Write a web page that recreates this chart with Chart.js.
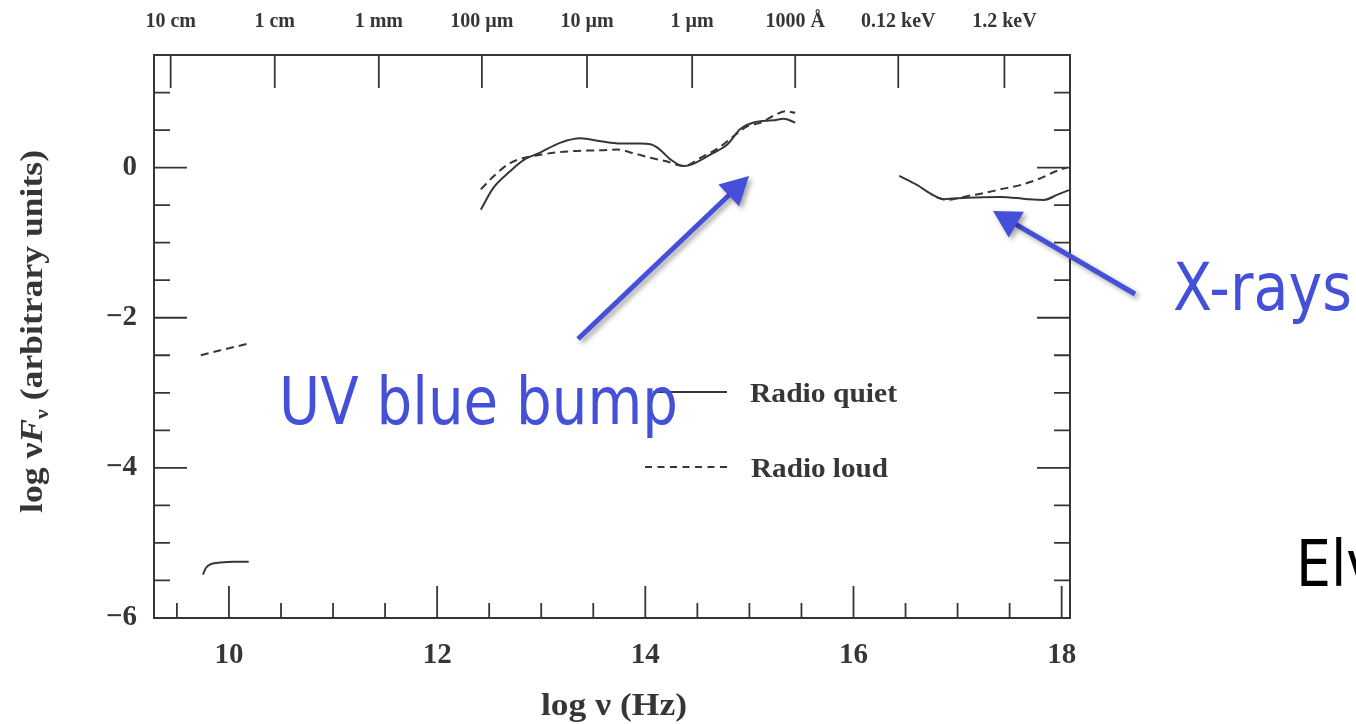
<!DOCTYPE html>
<html>
<head>
<meta charset="utf-8">
<script src="https://cdn.jsdelivr.net/npm/chart.js@4.4.1/dist/chart.umd.min.js"></script>
<style>
  html, body { margin: 0; padding: 0; background: #fff; overflow: hidden; }
  #wrap { width: 1356px; height: 724px; position: relative; }
</style>
</head>
<body>
<div id="wrap"><canvas id="sed" width="1356" height="724"></canvas></div>
<script>
// Mean quasar spectral energy distributions: log nu (Hz) against log nuF_nu.
const seriesNames = ['Radio quiet', 'Radio loud'];

// Radio-quiet mean SED, one pair of arrays per band
const quietRadioNu   = [9.75, 9.78, 9.83, 9.92, 10.05, 10.19];
const quietRadioFlux = [-5.42, -5.33, -5.28, -5.26, -5.25, -5.25];
const quietIrUvNu    = [12.42, 12.54, 12.70, 12.83, 12.99, 13.18, 13.38, 13.57, 13.76, 13.95, 14.05,
                        14.14, 14.24, 14.37, 14.46, 14.62, 14.79, 14.91, 15.04, 15.23, 15.33, 15.44];
const quietIrUvFlux  = [-0.56, -0.27, -0.05, 0.10, 0.20, 0.33, 0.39, 0.35, 0.32, 0.32, 0.31,
                        0.24, 0.11, 0.02, 0.05, 0.17, 0.31, 0.51, 0.60, 0.63, 0.65, 0.60];
const quietXrayNu    = [16.44, 16.61, 16.77, 16.87, 17.09, 17.41, 17.67, 17.83, 17.96, 18.07];
const quietXrayFlux  = [-0.11, -0.23, -0.37, -0.42, -0.40, -0.39, -0.42, -0.43, -0.36, -0.30];

// Radio-loud mean SED
const loudRadioNu    = [9.73, 9.90, 10.05, 10.17];
const loudRadioFlux  = [-2.50, -2.44, -2.39, -2.35];
const loudIrUvNu     = [12.42, 12.54, 12.70, 12.99, 13.31, 13.57, 13.73, 13.89, 14.05, 14.21,
                        14.37, 14.53, 14.69, 14.85, 14.98, 15.11, 15.23, 15.35, 15.44];
const loudIrUvFlux   = [-0.29, -0.12, 0.06, 0.17, 0.22, 0.23, 0.24, 0.19, 0.13, 0.08,
                        0.02, 0.13, 0.25, 0.42, 0.55, 0.60, 0.69, 0.75, 0.73];
const loudXrayNu     = [16.80, 16.90, 17.09, 17.25, 17.41, 17.61, 17.80, 17.96, 18.05];
const loudXrayFlux   = [-0.40, -0.43, -0.38, -0.34, -0.29, -0.23, -0.14, -0.04, 0.00];

// Axis ticks
const xTickValues = [10, 12, 14, 16, 18];
const yTickValues = [-6, -4, -2, 0];
const topTickNu = [9.44, 10.44, 11.44, 12.43, 13.44, 14.45, 15.44, 16.43, 17.45];
const topTickLabels = ['10 cm', '1 cm', '1 mm', '100 \u00b5m', '10 \u00b5m', '1 \u00b5m', '1000 \u00c5', '0.12 keV', '1.2 keV'];

const INK = '#363636';
const BLUE = '#4450d8';
const SERIF = '"Liberation Serif", "Times New Roman", serif';

// Join band segments into one series, breaking the line between bands
function joinBands(bands) {
  const pts = [];
  bands.forEach(([nu, flux], b) => {
    if (b > 0) pts.push({ x: nu[0], y: null });
    nu.forEach((v, i) => pts.push({ x: v, y: flux[i] }));
  });
  return pts;
}

const quietData = joinBands([[quietRadioNu, quietRadioFlux], [quietIrUvNu, quietIrUvFlux], [quietXrayNu, quietXrayFlux]]);
const loudData  = joinBands([[loudRadioNu, loudRadioFlux], [loudIrUvNu, loudIrUvFlux], [loudXrayNu, loudXrayFlux]]);

function fitText(ctx, text, x, y, font, width, color) {
  ctx.save();
  ctx.font = font;
  ctx.fillStyle = color;
  ctx.textAlign = 'left';
  ctx.textBaseline = 'alphabetic';
  const s = width / ctx.measureText(text).width;
  ctx.translate(x, y);
  ctx.scale(s, 1);
  ctx.fillText(text, 0, 0);
  ctx.restore();
}

function arrow(ctx, x0, y0, x1, y1, len, half) {
  const a = Math.atan2(y1 - y0, x1 - x0);
  const bx = x1 - len * Math.cos(a), by = y1 - len * Math.sin(a);
  ctx.beginPath();
  ctx.moveTo(x0, y0);
  ctx.lineTo(bx + 2 * Math.cos(a), by + 2 * Math.sin(a));
  ctx.stroke();
  ctx.beginPath();
  ctx.moveTo(x1, y1);
  ctx.lineTo(bx + half * Math.sin(a), by - half * Math.cos(a));
  ctx.lineTo(bx - half * Math.sin(a), by + half * Math.cos(a));
  ctx.closePath();
  ctx.fill();
}

const framePlugin = {
  id: 'frame',
  beforeDatasetsDraw(chart) {
    const { ctx, chartArea: a, scales } = chart;
    const xs = scales.x, ys = scales.y, xt = scales.x2;
    ctx.save();
    ctx.strokeStyle = INK;
    ctx.lineWidth = 2;
    ctx.strokeRect(a.left, a.top, a.right - a.left, a.bottom - a.top);
    ctx.lineWidth = 1.8;
    ctx.beginPath();
    // inward ticks every half decade, long ones on the labelled values
    for (let k = Math.ceil(ys.min * 2); k <= Math.floor(ys.max * 2); k++) {
      const v = k / 2;
      const py = ys.getPixelForValue(v);
      const len = (v % 2 === 0) ? 33 : 16;
      ctx.moveTo(a.left, py); ctx.lineTo(a.left + len, py);
      ctx.moveTo(a.right, py); ctx.lineTo(a.right - len, py);
    }
    for (let k = Math.ceil(xs.min * 2); k <= Math.floor(xs.max * 2); k++) {
      const v = k / 2;
      const px = xs.getPixelForValue(v);
      const len = (v % 2 === 0) ? 32 : 15;
      ctx.moveTo(px, a.bottom); ctx.lineTo(px, a.bottom - len);
    }
    topTickNu.forEach(v => {
      const px = xt.getPixelForValue(v);
      ctx.moveTo(px, a.top); ctx.lineTo(px, a.top + 33);
    });
    ctx.stroke();
    ctx.restore();
  },
  afterDraw(chart) {
    const { ctx } = chart;
    ctx.save();

    // legend
    ctx.strokeStyle = INK;
    ctx.lineWidth = 2;
    ctx.beginPath(); ctx.moveTo(653, 392); ctx.lineTo(727, 392); ctx.stroke();
    ctx.setLineDash([7, 5.5]);
    ctx.beginPath(); ctx.moveTo(645, 467); ctx.lineTo(729, 467); ctx.stroke();
    ctx.setLineDash([]);
    fitText(ctx, chart.data.datasets[0].label, 750, 402, 'bold 27px ' + SERIF, 147, INK);
    fitText(ctx, chart.data.datasets[1].label, 751, 477, 'bold 27px ' + SERIF, 137, INK);

    // x axis title
    fitText(ctx, 'log \u03bd (Hz)', 541, 715, 'bold 31px ' + SERIF, 146, INK);

    // y axis title: log nuF_nu (arbitrary units), with an italic F and subscript nu
    const parts = [
      { t: 'log \u03bd', f: 'bold 31px ' + SERIF, dy: 0 },
      { t: 'F', f: 'italic bold 31px ' + SERIF, dy: 0 },
      { t: '\u03bd', f: 'bold 19px ' + SERIF, dy: 6 },
      { t: ' (arbitrary units)', f: 'bold 31px ' + SERIF, dy: 0 }
    ];
    let total = 0;
    parts.forEach(p => { ctx.font = p.f; p.w = ctx.measureText(p.t).width; total += p.w; });
    ctx.save();
    ctx.translate(42, 513);
    ctx.rotate(-Math.PI / 2);
    ctx.scale(363 / total, 1);
    ctx.fillStyle = INK;
    ctx.textBaseline = 'alphabetic';
    let cx = 0;
    parts.forEach(p => { ctx.font = p.f; ctx.fillText(p.t, cx, p.dy); cx += p.w; });
    ctx.restore();

    // callouts
    ctx.save();
    ctx.strokeStyle = BLUE;
    ctx.fillStyle = BLUE;
    ctx.lineWidth = 5;
    ctx.lineCap = 'butt';
    ctx.shadowColor = 'rgba(0,0,0,0.35)';
    ctx.shadowBlur = 5;
    ctx.shadowOffsetX = 3;
    ctx.shadowOffsetY = 3;
    arrow(ctx, 578, 339, 749, 176, 28, 15);
    arrow(ctx, 1135, 294, 993, 211, 27, 15);
    ctx.restore();

    fitText(ctx, 'UV blue bump', 279, 424, '65px "DejaVu Sans", sans-serif', 399, BLUE);
    fitText(ctx, 'X-rays', 1173, 310, '65px "DejaVu Sans", sans-serif', 179, BLUE);
    ctx.save();
    ctx.font = '64px "DejaVu Sans", sans-serif';
    ctx.fillStyle = '#000';
    ctx.translate(1296, 586);
    ctx.scale(0.865, 1);
    ctx.fillText('Elvis et al.', 0, 0);
    ctx.restore();

    ctx.restore();
  }
};

const tickFont = { family: SERIF, size: 29, weight: 'bold' };

new Chart(document.getElementById('sed'), {
  type: 'scatter',
  data: {
    datasets: [
      {
        label: seriesNames[0],
        data: quietData,
        showLine: true,
        borderColor: INK,
        borderWidth: 2,
        pointRadius: 0,
        cubicInterpolationMode: 'monotone',
        spanGaps: false
      },
      {
        label: seriesNames[1],
        data: loudData,
        showLine: true,
        borderColor: INK,
        borderWidth: 2,
        borderDash: [8, 5],
        pointRadius: 0,
        cubicInterpolationMode: 'monotone',
        spanGaps: false
      }
    ]
  },
  options: {
    responsive: false,
    animation: false,
    layout: { padding: { left: 0, right: 286, top: 0, bottom: 0 } },
    plugins: { legend: { display: false }, tooltip: { enabled: false } },
    scales: {
      x: {
        type: 'linear',
        position: 'bottom',
        min: 9.28,
        max: 18.08,
        grid: { display: false },
        border: { display: false },
        afterBuildTicks: s => { s.ticks = xTickValues.map(v => ({ value: v })); },
        afterFit: s => { s.height = 106; },
        ticks: { font: tickFont, color: INK, padding: 12, maxRotation: 0, autoSkip: false, callback: v => String(v) }
      },
      x2: {
        type: 'linear',
        position: 'top',
        min: 9.28,
        max: 18.08,
        grid: { display: false },
        border: { display: false },
        afterBuildTicks: s => { s.ticks = topTickNu.map(v => ({ value: v })); },
        afterFit: s => { s.height = 55; },
        ticks: {
          font: { family: SERIF, size: 20, weight: 'bold' },
          color: INK, padding: 13, maxRotation: 0, autoSkip: false,
          callback: (v, i) => topTickLabels[i]
        }
      },
      y: {
        type: 'linear',
        position: 'left',
        min: -6,
        max: 1.5,
        grid: { display: false },
        border: { display: false },
        afterBuildTicks: s => { s.ticks = yTickValues.map(v => ({ value: v })); },
        afterFit: s => { s.width = 154; },
        ticks: { font: tickFont, color: INK, padding: 9, callback: v => (v < 0 ? '\u2212' + Math.abs(v) : String(v)) }
      }
    }
  },
  plugins: [framePlugin]
});
</script>
</body>
</html>
